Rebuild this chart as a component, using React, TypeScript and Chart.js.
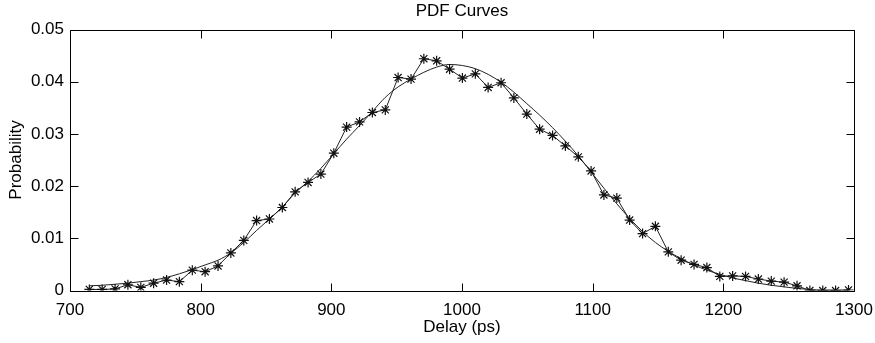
import React, { useEffect, useRef } from "react";
import { Chart, registerables } from "chart.js";

Chart.register(...registerables);

const delayValues = [
  714.8, 724.6, 734.5, 744.3, 754.2, 764.0, 773.9, 783.7, 793.6, 803.4,
  813.3, 823.1, 833.0, 842.8, 852.6, 862.5, 872.3, 882.2, 892.0, 901.9,
  911.7, 921.6, 931.4, 941.3, 951.1, 961.0, 970.8, 980.6, 990.5, 1000.3,
  1010.2, 1020.0, 1029.9, 1039.7, 1049.6, 1059.4, 1069.3, 1079.1, 1089.0, 1098.8,
  1108.6, 1118.5, 1128.3, 1138.2, 1148.0, 1157.9, 1167.7, 1177.6, 1187.4, 1197.3,
  1207.1, 1217.0, 1226.8, 1236.7, 1246.5, 1256.4, 1266.2, 1276.1, 1285.9, 1295.8,
];

const histogramValues = [
  0.0002, 0.0002, 0.0003, 0.0011, 0.0006, 0.0014, 0.0020, 0.0017, 0.0039, 0.0036,
  0.0047, 0.0072, 0.0096, 0.0134, 0.0137, 0.0159, 0.0189, 0.0207, 0.0223, 0.0263,
  0.0313, 0.0323, 0.0341, 0.0346, 0.0408, 0.0405, 0.0444, 0.0440, 0.0424, 0.0407,
  0.0415, 0.0389, 0.0398, 0.0369, 0.0338, 0.0309, 0.0297, 0.0277, 0.0256, 0.0229,
  0.0183, 0.0177, 0.0135, 0.0109, 0.0123, 0.0074, 0.0058, 0.0050, 0.0044, 0.0027,
  0.0028, 0.0027, 0.0022, 0.0018, 0.0016, 0.0009, 0.0000, 0.0000, 0.0000, 0.0001,
];

const fittedValues = [
  0.0009, 0.0010, 0.0012, 0.0014, 0.0017, 0.0020, 0.0025, 0.0032, 0.0040, 0.0049,
  0.0058, 0.0072, 0.0092, 0.0115, 0.0137, 0.0160, 0.0187, 0.0209, 0.0234, 0.0262,
  0.0290, 0.0316, 0.0343, 0.0370, 0.0390, 0.0405, 0.0418, 0.0428, 0.0433, 0.0431,
  0.0425, 0.0414, 0.0399, 0.0380, 0.0358, 0.0336, 0.0312, 0.0286, 0.0258, 0.0227,
  0.0196, 0.0166, 0.0138, 0.0113, 0.0092, 0.0075, 0.0061, 0.0049, 0.0039, 0.0031,
  0.0024, 0.0019, 0.0014, 0.0010, 0.0007, 0.0004, 0.0002, 0.0001, 0.0001, 0.0000,
];

const xTickValues = [700, 800, 900, 1000, 1100, 1200, 1300];
const yTickValues = [0, 0.01, 0.02, 0.03, 0.04, 0.05];
const chartTitle = "PDF Curves";

const FONT = "'Liberation Sans', Arial, sans-serif";

const boxPlugin = {
  id: "matlabBox",
  afterDraw(chart: any) {
    const { ctx, chartArea } = chart;
    const xs = chart.scales.x;
    const ys = chart.scales.y;
    const tl = 8;
    ctx.save();
    ctx.strokeStyle = "#000";
    ctx.lineWidth = 1;
    ctx.beginPath();
    const L = Math.round(chartArea.left) + 0.5;
    const R = Math.round(chartArea.right) + 0.5;
    const T = Math.round(chartArea.top) + 0.5;
    const B = Math.round(chartArea.bottom) + 0.5;
    ctx.rect(L, T, R - L, B - T);
    xTickValues.forEach((v) => {
      const px = Math.round(xs.getPixelForValue(v)) + 0.5;
      ctx.moveTo(px, B);
      ctx.lineTo(px, B - tl);
      ctx.moveTo(px, T);
      ctx.lineTo(px, T + tl);
    });
    yTickValues.forEach((v) => {
      const py = Math.round(ys.getPixelForValue(v)) + 0.5;
      ctx.moveTo(L, py);
      ctx.lineTo(L + tl, py);
      ctx.moveTo(R, py);
      ctx.lineTo(R - tl, py);
    });
    ctx.stroke();
    // title centred over the axes box
    ctx.fillStyle = "#000";
    ctx.font = `17px ${FONT}`;
    ctx.textAlign = "center";
    ctx.textBaseline = "middle";
    ctx.fillText(chartTitle, (chartArea.left + chartArea.right) / 2, 11);
    ctx.restore();
  },
};

export default function App() {
  const canvasRef = useRef<HTMLCanvasElement | null>(null);

  useEffect(() => {
    const canvas = canvasRef.current;
    if (!canvas) return;
    const histData = delayValues.map((x, i) => ({ x, y: histogramValues[i] }));
    const fitData = delayValues.map((x, i) => ({ x, y: fittedValues[i] }));
    const chart = new Chart(canvas, {
      type: "line",
      data: {
        datasets: [
          {
            label: "Histogram",
            data: histData,
            borderColor: "#222",
            borderWidth: 1,
            pointStyle: "star",
            pointRadius: 5,
            pointBorderColor: "#111",
            pointBackgroundColor: "#111",
            pointBorderWidth: 1.2,
            tension: 0,
            fill: false,
          },
          {
            label: "Fit",
            data: fitData,
            borderColor: "#222",
            borderWidth: 1,
            pointRadius: 0,
            cubicInterpolationMode: "monotone",
            fill: false,
          },
        ],
      },
      options: {
        responsive: false,
        animation: false,
        devicePixelRatio: 1,
        layout: { padding: { top: 29.5, right: 21, left: 0, bottom: 0 } },
        plugins: {
          legend: { display: false },
          tooltip: { enabled: false },
          title: { display: false },
        },
        scales: {
          x: {
            type: "linear",
            min: 700,
            max: 1300,
            afterFit: (s: any) => {
              s.height = 52.5;
              s.paddingLeft = 0;
              s.paddingRight = 0;
            },
            afterBuildTicks: (s: any) => {
              s.ticks = xTickValues.map((v) => ({ value: v }));
            },
            grid: { display: false, drawTicks: false },
            border: { display: false },
            ticks: {
              color: "#000",
              padding: 10,
              maxRotation: 0,
              font: { family: FONT, size: 17 },
              callback: (v: any) => String(v),
            },
            title: {
              display: true,
              text: "Delay (ps)",
              color: "#000",
              font: { family: FONT, size: 17 },
              padding: { top: 0, bottom: 5 },
            },
          },
          y: {
            type: "linear",
            min: 0,
            max: 0.05,
            afterFit: (s: any) => {
              s.width = 70;
              s.paddingTop = 0;
              s.paddingBottom = 0;
            },
            afterBuildTicks: (s: any) => {
              s.ticks = yTickValues.map((v) => ({ value: v }));
            },
            grid: { display: false, drawTicks: false },
            border: { display: false },
            ticks: {
              color: "#000",
              padding: 6,
              font: { family: FONT, size: 17 },
              callback: (v: any) => String(Math.round(Number(v) * 100) / 100),
            },
            title: {
              display: true,
              text: "Probability",
              color: "#000",
              font: { family: FONT, size: 17 },
              padding: { top: 6, bottom: 0 },
            },
          },
        },
      },
      plugins: [boxPlugin],
    });
    return () => chart.destroy();
  }, []);

  return (
    <div style={{ position: "absolute", left: 0, top: 0, width: 875, height: 343, background: "#fff" }}>
      <canvas ref={canvasRef} width={875} height={343} />
    </div>
  );
}
